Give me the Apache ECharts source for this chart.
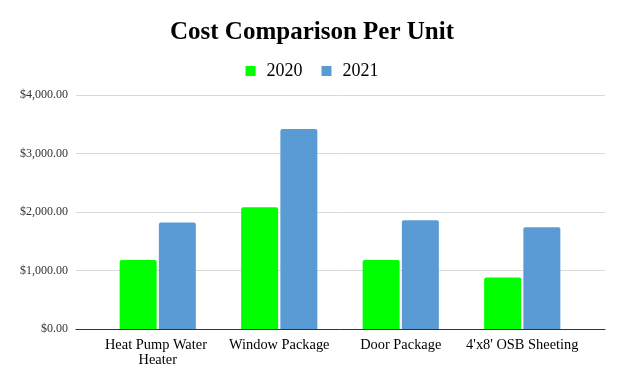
<!DOCTYPE html>
<html>
<head>
<meta charset="utf-8">
<script src="https://cdn.jsdelivr.net/npm/echarts@6/dist/echarts.min.js"></script>
<style>
html,body{margin:0;padding:0;background:#fff;}
#chart{width:624px;height:385px;}
</style>
</head>
<body>
<div id="chart"></div>
<script>
const categories = ["Heat Pump Water Heater", "Window Package", "Door Package", "4'x8' OSB Sheeting"];
const seriesNames = ["2020", "2021"];
const values2020 = [1180, 2080, 1180, 880];
const values2021 = [1820, 3420, 1860, 1740];
const yTicks = [0, 1000, 2000, 3000, 4000];

const FONT = "'Liberation Serif', 'DejaVu Serif', serif";
const chart = echarts.init(document.getElementById('chart'));

function money(v) {
  const s = Math.round(v).toString().replace(/\B(?=(\d{3})+(?!\d))/g, ',');
  return '$' + s + '.00';
}

chart.setOption({
  animation: false,
  backgroundColor: '#ffffff',
  title: {
    text: 'Cost Comparison Per Unit',
    left: 'center',
    top: 15,
    textStyle: { fontFamily: FONT, fontSize: 25, fontWeight: 'bold', color: '#000' }
  },
  legend: {
    data: seriesNames,
    top: 57,
    left: 'center',
    itemWidth: 10,
    itemHeight: 10,
    itemGap: 19,
    icon: 'rect',
    textStyle: { fontFamily: FONT, fontSize: 18, color: '#000', padding: [0, 0, 0, 6] }
  },
  grid: [
    { left: 76, right: 19, top: 95, bottom: 56, containLabel: false },
    { left: 97, right: 41, top: 95, bottom: 56, containLabel: false }
  ],
  xAxis: [
    {
      gridIndex: 0, type: 'category', data: categories,
      axisLine: { show: true, lineStyle: { color: '#333', width: 1 } },
      axisTick: { show: false }, axisLabel: { show: false }, splitLine: { show: false }
    },
    {
      gridIndex: 1, type: 'category', data: categories,
      axisLine: { show: false }, axisTick: { show: false },
      axisLabel: {
        interval: 0, fontFamily: FONT, fontSize: 14.4, color: '#000', margin: 9,
        width: 118, overflow: 'break', lineHeight: 15
      }
    }
  ],
  yAxis: [
    {
      gridIndex: 0, type: 'value', min: yTicks[0], max: yTicks[yTicks.length - 1], interval: 1000,
      axisLine: { show: false }, axisTick: { show: false },
      splitLine: { lineStyle: { color: '#d9d9d9', width: 1 } },
      axisLabel: { fontFamily: FONT, fontSize: 12, color: '#333', margin: 8, formatter: money }
    },
    {
      gridIndex: 1, type: 'value', min: yTicks[0], max: yTicks[yTicks.length - 1], interval: 1000,
      show: false
    }
  ],
  series: [
    {
      name: seriesNames[0], type: 'bar', xAxisIndex: 1, yAxisIndex: 1,
      data: values2020, barWidth: 37, barGap: '6%',
      itemStyle: { color: '#00ff00', borderRadius: [2, 2, 0, 0] }
    },
    {
      name: seriesNames[1], type: 'bar', xAxisIndex: 1, yAxisIndex: 1,
      data: values2021, barWidth: 37, barGap: '6%',
      itemStyle: { color: '#5b9bd5', borderRadius: [2, 2, 0, 0] }
    }
  ]
});
</script>
</body>
</html>
